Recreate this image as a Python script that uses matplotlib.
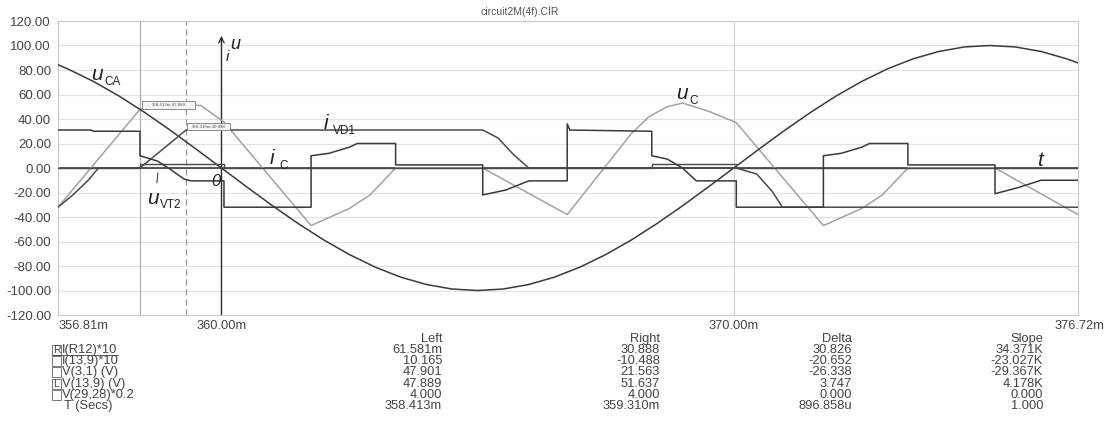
import matplotlib
matplotlib.use("Agg")
import matplotlib.pyplot as plt
from matplotlib.patches import Rectangle

plt.rcParams['font.family'] = ['Liberation Sans', 'DejaVu Sans']

# time axis in ms
t_min, t_max = 356.81, 376.72

# u_CA  = V(3,1)
t_uca = [356.81, 357.0, 357.5, 358.0, 358.5, 359.0, 359.5, 360.0, 360.5, 361.0,
         361.5, 362.0, 362.5, 363.0, 363.5, 364.0, 364.5, 365.0, 365.5, 366.0,
         366.5, 367.0, 367.5, 368.0, 368.5, 369.0, 369.5, 370.0, 370.5, 371.0,
         371.5, 372.0, 372.5, 373.0, 373.5, 374.0, 374.5, 375.0, 375.5, 376.0,
         376.5, 376.72]
v_uca = [84.3, 80.9, 70.7, 58.8, 45.4, 30.9, 15.6, 0.0, -15.6, -30.9,
         -45.4, -58.8, -70.7, -80.9, -89.1, -95.1, -98.8, -100.0, -98.8, -95.1,
         -89.1, -80.9, -70.7, -58.8, -45.4, -30.9, -15.6, 0.0, 15.6, 30.9,
         45.4, 58.8, 70.7, 80.9, 89.1, 95.1, 98.8, 100.0, 98.8, 95.1,
         89.1, 85.8]

# i_C = I(13,9)*10
t_ic = [356.81, 357.45, 357.5, 358.41, 358.41, 358.75, 359.0, 359.27, 359.4, 360.05,
        360.05, 361.75, 361.75, 362.1, 362.5, 362.65, 363.4, 363.4, 365.1, 365.1,
        365.55, 366.0, 366.75, 366.75, 366.8, 368.4, 368.4, 368.7, 369.0, 369.27,
        370.05, 370.05, 371.75, 371.75, 372.1, 372.5, 372.65, 373.4, 373.4, 375.1,
        375.1, 375.55, 376.0, 376.72]
v_ic = [31, 31, 30, 30, 10, 5.7, -1, -9, -10.5, -10.5,
        -32, -32, 10, 12, 17, 20, 20, 2.5, 2.5, -22,
        -18, -10.5, -10.5, 36, 31, 30, 10, 7.3, 0, -10.5,
        -10.5, -32, -32, 10, 12, 17, 20, 20, 2.5, 2.5,
        -21, -16, -10, -10]

# u_VT2 = V(29,28)*0.2
t_uvt = [356.81, 358.41, 358.41, 360.05, 360.05, 368.4, 368.4, 370.05, 370.05, 376.72]
v_uvt = [0, 0, 3.5, 3.5, 0, 0, 3.5, 3.5, 0, 0]

# i_VD1 = I(R12)*10
t_ivd = [356.81, 357.1, 357.4, 357.6, 358.41, 359.31, 365.1, 365.4, 365.7, 366.0,
         370.05, 370.45, 370.75, 370.95, 376.72]
v_ivd = [-32, -22, -10, 0, 0, 31, 31, 24.5, 11, 0,
         0, -5, -19, -32, -32]

# u_C = V(13,9)
t_uc = [356.81, 358.41, 359.31, 359.6, 360.05, 361.75, 362.5, 362.9, 363.4, 365.1,
        366.75, 368.0, 368.35, 368.7, 369.0, 369.5, 370.05, 371.75, 372.5, 372.9,
        373.4, 375.1, 376.72]
v_uc = [-32, 47.9, 51.6, 51, 37.5, -47, -33, -22, 0, 0,
        -38, 28, 42, 50, 53, 46.5, 37, -47, -33, -22,
        0, 0, -38]

cursor_left, cursor_right = 358.413, 359.310

row_names = ['I(R12)*10', 'I(13,9)*10', 'V(3,1) (V)', 'V(13,9) (V)', 'V(29,28)*0.2', 'T (Secs)']
col_left = ['61.581m', '10.165', '47.901', '47.889', '4.000', '358.413m']
col_right = ['30.888', '-10.488', '21.563', '51.637', '4.000', '359.310m']
col_delta = ['30.826', '-20.652', '-26.338', '3.747', '0.000', '896.858u']
col_slope = ['34.371K', '-23.027K', '-29.367K', '4.178K', '0.000', '1.000']

W, H = 1105, 448
fig = plt.figure(figsize=(W / 100, H / 100), dpi=100)
ax = fig.add_axes([58 / W, 1 - 315 / H, 1020 / W, 294 / H])
ax.set_xlim(t_min, t_max)
ax.set_ylim(-120, 120)

dark = '#3a3a3a'
light = '#a2a2a2'

for y in range(-100, 120, 20):
    ax.axhline(y, color='#e2e2e2', lw=0.8, zorder=0)
ax.axvline(370.0, color='#cfcfcf', lw=0.8, zorder=0)
for s in ax.spines.values():
    s.set_color('#c8c8c8')
    s.set_linewidth(0.8)

ax.axvline(cursor_left, color='#b0b0b0', lw=0.9, zorder=1)
ax.axvline(cursor_right, color='#9a9a9a', lw=0.9, ls=(0, (5, 3)), zorder=1)

# axes of the drawing (u/i and t)
ax.axhline(0, color='#2a2a2a', lw=1.1, zorder=2)
ax.plot([360.0, 360.0], [-120, 107], color='#2a2a2a', lw=1.0, zorder=2)
ax.annotate('', xy=(360.0, 110), xytext=(360.0, 100),
            arrowprops=dict(arrowstyle='->', color='#2a2a2a', lw=0.9, mutation_scale=10))

ax.plot(t_uc, v_uc, color=light, lw=1.1, zorder=3)
ax.plot(t_uca, v_uca, color=dark, lw=1.1, zorder=4)
ax.plot(t_ivd, v_ivd, color='#4a4a4a', lw=1.1, zorder=4)
ax.plot(t_uvt, v_uvt, color='#4a4a4a', lw=1.0, zorder=4)
ax.plot(t_ic, v_ic, color=dark, lw=1.1, zorder=5)

# cursor readout boxes
for (x0, y0, w, h, txt) in [(358.45, 48.5, 1.04, 6.0, '358.413m,47.889'),
                            (359.33, 31.0, 0.84, 5.5, '359.310m,30.888')]:
    ax.add_patch(Rectangle((x0, y0), w, h, facecolor='#f4f4f4', edgecolor='#8a8a8a',
                           lw=0.7, zorder=6))
    ax.text(x0 + w / 2, y0 + h / 2, txt, fontsize=3.2, color='#555555',
            ha='center', va='center', zorder=7)


def label(x, y, main, sub, size=15, subsize=8.5, dx=None):
    ax.text(x, y, main, fontsize=size, style='italic', color='#222222', zorder=8,
            va='baseline')
    if sub:
        if dx is None:
            dx = size * 0.62
        ax.annotate(sub, xy=(x, y), xytext=(dx, -3.5), textcoords='offset points',
                    fontsize=subsize, color='#222222', va='baseline', zorder=8)


label(357.46, 72, 'u', 'CA')
label(362.0, 32, 'i', 'VD1', dx=6.5)
label(368.88, 56, 'u', 'C')
label(360.95, 3, 'i', 'C', dx=6.5)
label(358.55, -29, 'u', 'VT2')
ax.plot([358.76, 358.74], [-4, -12], color='#444444', lw=0.8, zorder=8)
label(359.8, -14.5, '0', None, size=12)
label(375.93, 1.5, 't', None)
label(360.18, 97, 'u', None, size=13)
label(360.08, 87, 'i', None, size=11)

ax.set_xticks([])
ax.set_yticks(range(-120, 121, 20))
ax.set_yticklabels(['%.2f' % v for v in range(-120, 121, 20)], fontsize=9.5, color='#444444')
ax.tick_params(axis='y', length=0, pad=5)

fig.text(520 / W, 1 - 12 / H, 'circuit2M(4f).CIR', fontsize=7.5, color='#555555',
         ha='center', va='center')

# x labels
fs = 9.3
xl_y = 1 - 326 / H
fig.text(59 / W, xl_y, '%.2fm' % t_min, fontsize=fs, color='#444444', ha='left', va='center')
for t in (360.0, 370.0):
    px = 58 + (t - t_min) / (t_max - t_min) * 1020
    fig.text(px / W, xl_y, '%.2fm' % t, fontsize=fs, color='#444444', ha='center', va='center')
fig.text(1104 / W, xl_y, '%.2fm' % t_max, fontsize=fs, color='#444444', ha='right', va='center')

# readout table
tc = '#444444'
rows_y = [350, 361, 372, 384, 395, 406]
for x, head in [(442, 'Left'), (660, 'Right'), (852, 'Delta'), (1043, 'Slope')]:
    fig.text(x / W, 1 - 339 / H, head, fontsize=fs, color=tc, ha='right', va='center')
for i, y in enumerate(rows_y):
    yy = 1 - y / H
    if i < 5:
        fig.patches.append(Rectangle((52 / W, 1 - (y + 5) / H), 9 / W, 10 / H,
                                     transform=fig.transFigure, facecolor='none',
                                     edgecolor='#777777', lw=0.7))
        if i == 0:
            fig.text(56.5 / W, yy, 'R', fontsize=7.5, color=tc, ha='center', va='center')
        if i == 3:
            fig.text(56.5 / W, yy, 'L', fontsize=7.5, color=tc, ha='center', va='center')
        fig.text(62 / W, yy, row_names[i], fontsize=fs, color=tc, ha='left', va='center')
        if i == 0:
            fig.lines.append(plt.Line2D([52 / W, 118 / W], [1 - 355 / H, 1 - 355 / H],
                                        transform=fig.transFigure, color=tc, lw=0.6))
    else:
        fig.text(64 / W, yy, row_names[i], fontsize=fs, color=tc, ha='left', va='center')
    for x, col in [(442, col_left), (660, col_right), (852, col_delta), (1043, col_slope)]:
        fig.text(x / W, yy, col[i], fontsize=fs, color=tc, ha='right', va='center')

fig.savefig('out.png', dpi=100)
